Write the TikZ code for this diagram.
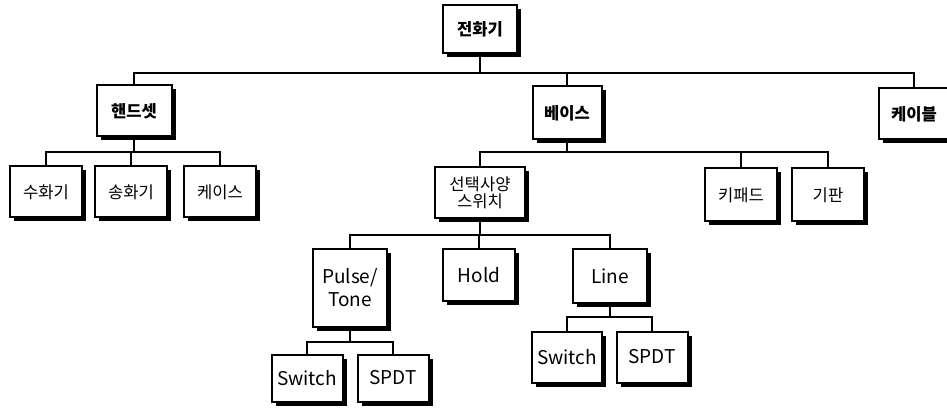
\documentclass[tikz,border=0pt]{standalone}
\usepackage{fontspec}
\setmainfont{Noto Sans CJK KR}
\usetikzlibrary{shadows}
\tikzset{
  partbox/.style = {rectangle, draw=black, fill=white, line width=1pt, align=center,
                    font=\fontsize{8.3}{8.5}\selectfont, minimum width=36pt, minimum height=25.5pt, inner sep=2pt,
                    drop shadow={shadow xshift=2pt, shadow yshift=-2pt, fill=black, opacity=1}},
  topbox/.style  = {partbox, font=\fontsize{8.3}{8.5}\selectfont\bfseries},
  engbox/.style  = {partbox, font=\fontsize{9.5}{11.5}\selectfont},
  tree/.style    = {line width=1pt, draw=black},
}

\begin{document}
\begin{tikzpicture}[x=0.5pt, y=-0.5pt]
	\useasboundingbox (0,0) rectangle (947,411);
	% top level
	\node[topbox, minimum width=37pt, minimum height=24pt] (phone)   at (480,29)  {전화기};
	\node[topbox, minimum width=37.5pt]                    (handset) at (134,111) {핸드셋};
	\node[topbox, minimum width=34.5pt, minimum height=26.5pt] (base) at (567,113) {베이스};
	\node[topbox, minimum width=35pt]                      (cable)   at (914,114) {케이블};
	% handset parts
	\node[partbox] (receiver)    at (46,192)  {수화기};
	\node[partbox] (transmitter) at (131,192) {송화기};
	\node[partbox] (casing)      at (220,192) {케이스};
	% base parts
	\node[partbox, minimum width=45pt] (selsw)  at (480,193) {선택사양\\스위치};
	\node[partbox, minimum height=26.5pt] (keypad) at (741,195) {키패드};
	\node[partbox, minimum height=26.5pt] (board)  at (828,195) {기판};
	% switches
	\node[engbox, minimum width=37pt, minimum height=39pt] (pulse) at (350,288) {Pulse/\\Tone};
	\node[engbox]                                  (hold)  at (479,275) {Hold};
	\node[engbox, minimum width=37pt, minimum height=26.5pt] (line) at (610,276) {Line};
	\node[engbox, minimum width=35.5pt, minimum height=23.5pt] (swa)   at (307,378) {Switch};
	\node[engbox, minimum width=35.5pt, minimum height=23.5pt] (spdta) at (393,378) {SPDT};
	\node[engbox, minimum width=35pt]   (swb)   at (567,357) {Switch};
	\node[engbox, minimum width=35.5pt] (spdtb) at (652,357) {SPDT};
	% connectors
	\foreach \c in {handset, base, cable}{\draw[tree] (phone.south) -- ++(0,19) -| (\c.north);}
	\foreach \c in {receiver, transmitter, casing}{\draw[tree] (handset.south) -- ++(0,15) -| (\c.north);}
	\foreach \c in {selsw, keypad, board}{\draw[tree] (base.south) -- ++(0,12) -| (\c.north);}
	\foreach \c in {pulse, hold, line}{\draw[tree] (selsw.south) -- ++(0,16) -| (\c.north);}
	\foreach \c in {swa, spdta}{\draw[tree] (pulse.south) -- ++(0,14) -| (\c.north);}
	\foreach \c in {swb, spdtb}{\draw[tree] (line.south) -- ++(0,13) -| (\c.north);}
\end{tikzpicture}
\end{document}
